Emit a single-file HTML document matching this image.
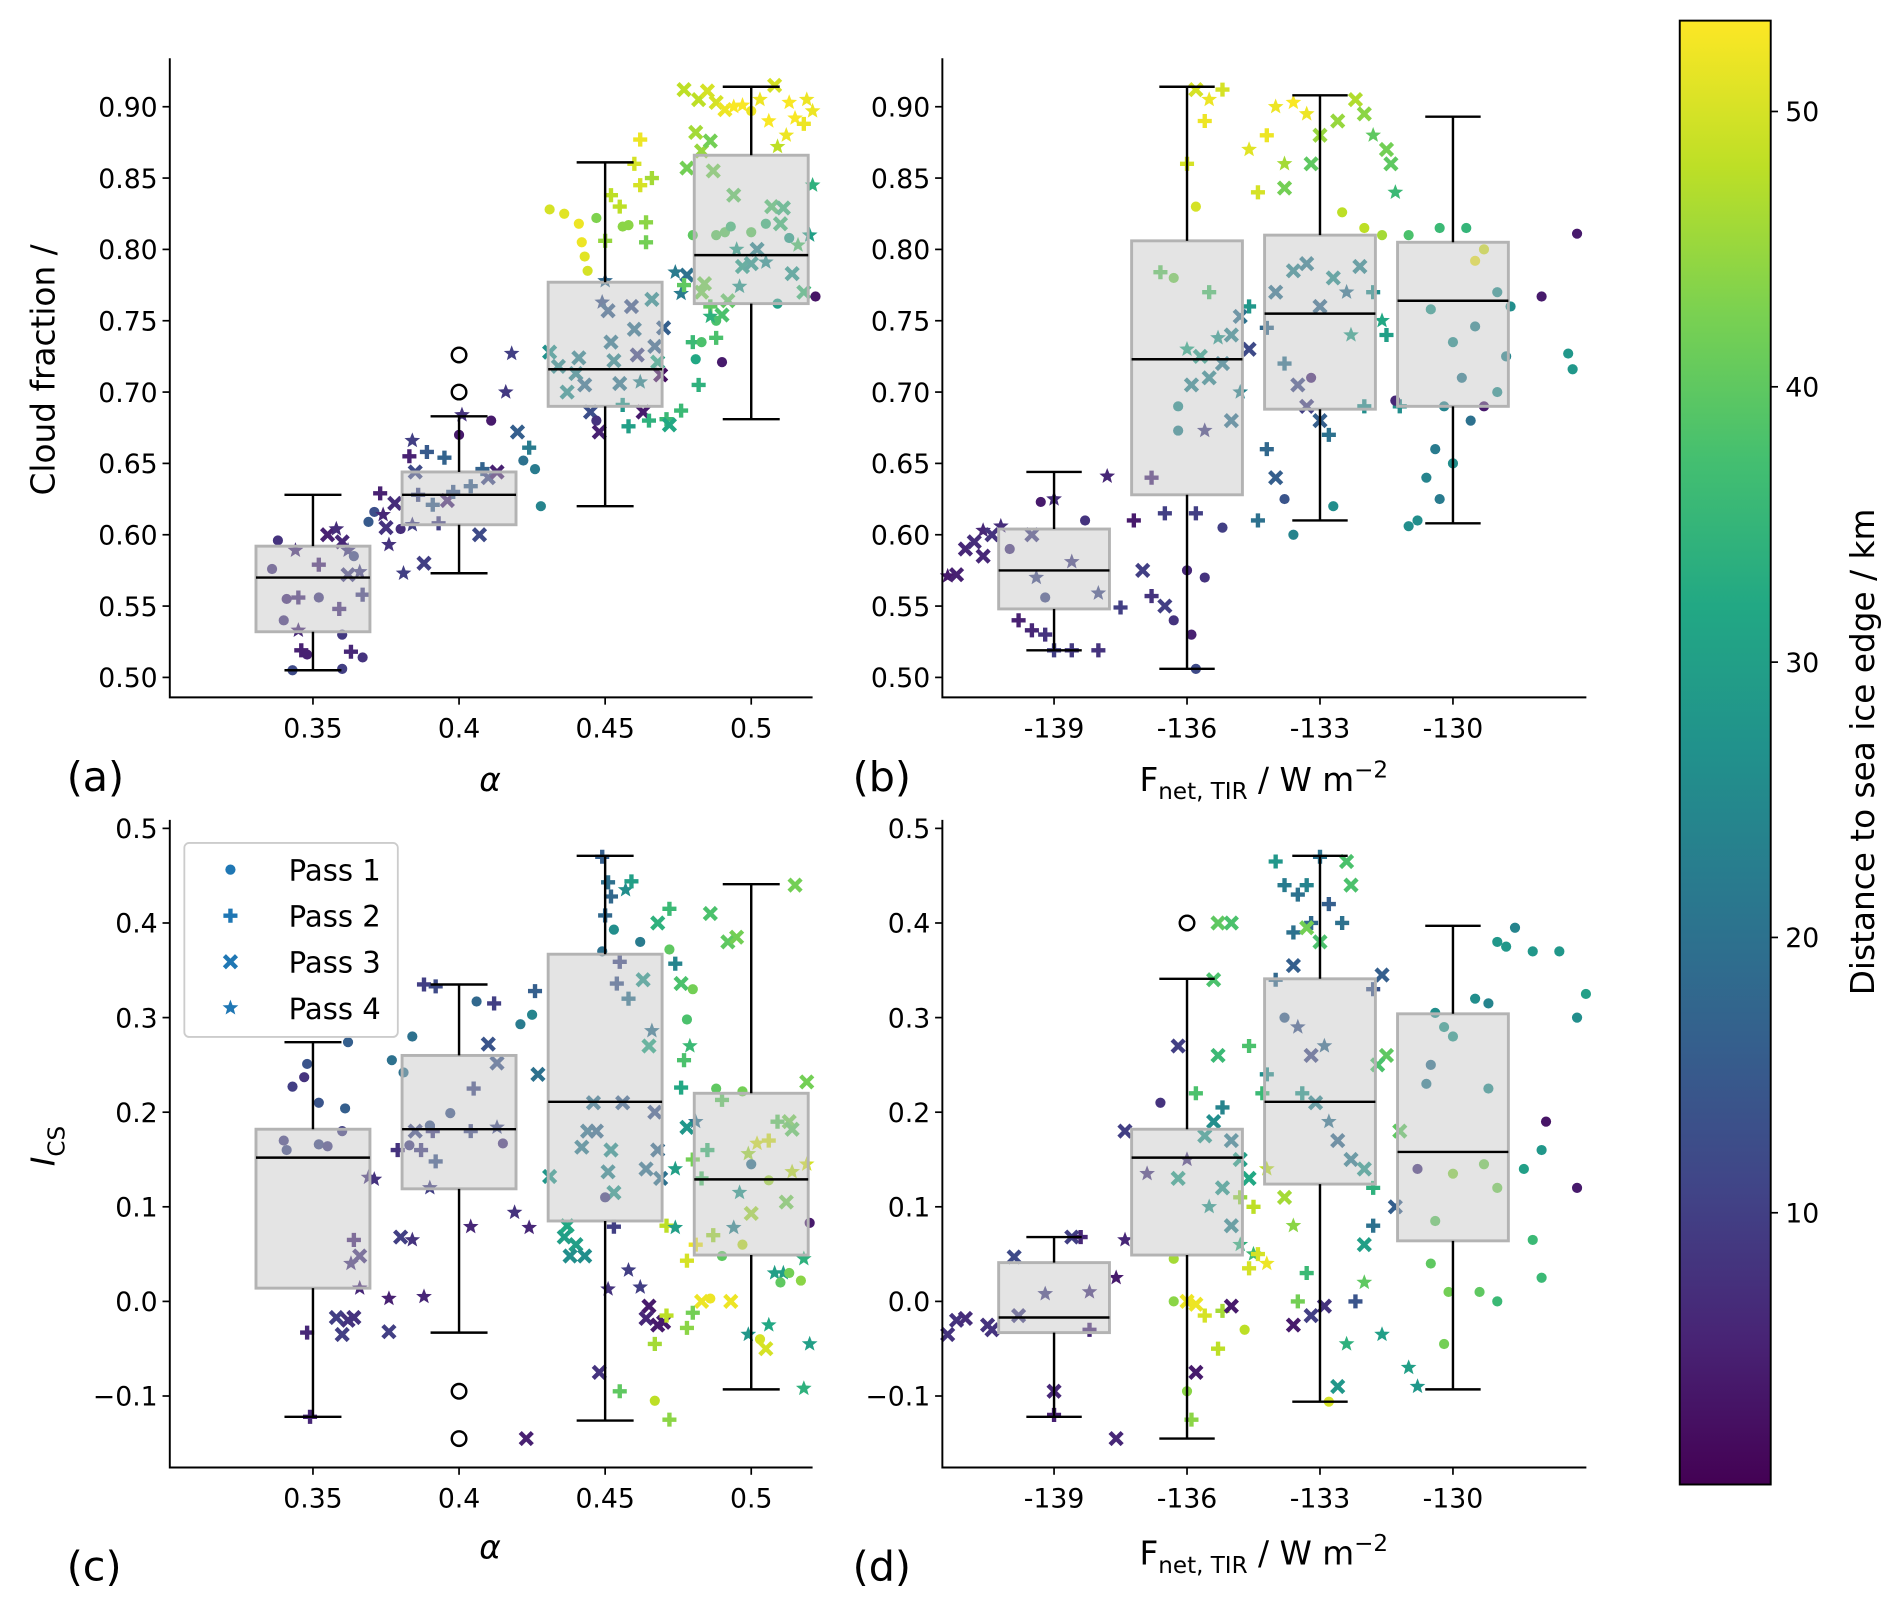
<!DOCTYPE html>
<html><head><meta charset="utf-8">
<style>
html,body{margin:0;padding:0;background:#fff;}
svg{display:block;font-family:"DejaVu Sans","Liberation Sans",sans-serif;}
</style></head>
<body>
<svg id="fig" xmlns="http://www.w3.org/2000/svg" width="1892" height="1599" viewBox="0 0 1560 1318.4">
<defs>
<linearGradient id="vir" x1="0" y1="1" x2="0" y2="0">
<stop offset="0" stop-color="#440154"/><stop offset="0.1" stop-color="#482475"/><stop offset="0.2" stop-color="#414487"/><stop offset="0.3" stop-color="#355f8d"/><stop offset="0.4" stop-color="#2a788e"/><stop offset="0.5" stop-color="#21918c"/><stop offset="0.6" stop-color="#22a884"/><stop offset="0.7" stop-color="#44bf70"/><stop offset="0.8" stop-color="#7ad151"/><stop offset="0.9" stop-color="#bddf26"/><stop offset="1" stop-color="#fde725"/>
</linearGradient>
</defs>
</svg>
<script>
// ---------- data ----------
const alphaTicks=[0.35,0.4,0.45,0.5];
const alphaTickLabels=["0.35","0.4","0.45","0.5"];
const fluxTicks=[-139,-136,-133,-130];
const fluxTickLabels=["-139","-136","-133","-130"];
const cfTicks=[0.5,0.55,0.6,0.65,0.7,0.75,0.8,0.85,0.9];
const cfTickLabels=["0.50","0.55","0.60","0.65","0.70","0.75","0.80","0.85","0.90"];
const icsTicks=[-0.1,0,0.1,0.2,0.3,0.4,0.5];
const icsTickLabels=["\u22120.1","0.0","0.1","0.2","0.3","0.4","0.5"];
const cbTicks=[10,20,30,40,50];
const cbTickLabels=["10","20","30","40","50"];
// boxes: [pos, whiskerLow, q1, median, q3, whiskerHigh]
const boxesA=[[0.35,0.505,0.532,0.570,0.592,0.628],[0.40,0.573,0.607,0.628,0.644,0.683],[0.45,0.620,0.690,0.716,0.777,0.861],[0.50,0.681,0.762,0.796,0.866,0.914]];
const fliersA=[[0.40,0.700],[0.40,0.726]];
const boxesB=[[-139,0.519,0.548,0.575,0.604,0.644],[-136,0.506,0.628,0.723,0.806,0.914],[-133,0.610,0.688,0.755,0.810,0.908],[-130,0.608,0.690,0.764,0.805,0.893]];
const fliersB=[];
const boxesC=[[0.35,-0.122,0.014,0.152,0.182,0.274],[0.40,-0.033,0.119,0.182,0.260,0.335],[0.45,-0.126,0.085,0.211,0.367,0.471],[0.50,-0.093,0.049,0.129,0.220,0.441]];
const fliersC=[[0.40,-0.095],[0.40,-0.145]];
const boxesD=[[-139,-0.122,-0.033,-0.017,0.041,0.068],[-136,-0.145,0.049,0.152,0.182,0.341],[-133,-0.106,0.124,0.211,0.341,0.471],[-130,-0.093,0.064,0.158,0.304,0.397]];
const fliersD=[[-136,0.400]];
// points: [x, y, distance km, pass]
const pointsA=[[0.338,0.596,8,1],[0.336,0.576,8,1],[0.341,0.555,7,1],[0.340,0.540,8,1],[0.345,0.533,6,4],[0.346,0.519,5,2],[0.348,0.516,5,1],[0.345,0.556,7,2],[0.352,0.556,9,1],[0.344,0.589,7,4],[0.352,0.579,6,2],[0.355,0.600,5,3],[0.358,0.604,7,4],[0.360,0.595,6,3],[0.362,0.589,9,4],[0.364,0.585,12,1],[0.362,0.572,10,3],[0.366,0.574,10,4],[0.367,0.558,10,2],[0.359,0.548,7,2],[0.360,0.530,9,1],[0.363,0.518,6,2],[0.367,0.514,8,1],[0.343,0.505,12,1],[0.360,0.506,10,1],[0.369,0.609,15,1],[0.371,0.616,13,1],[0.373,0.629,5,2],[0.374,0.614,6,4],[0.375,0.605,8,3],[0.376,0.593,8,4],[0.378,0.622,7,3],[0.380,0.604,7,1],[0.381,0.573,10,4],[0.383,0.655,5,2],[0.384,0.666,10,4],[0.385,0.644,12,3],[0.386,0.628,12,2],[0.384,0.607,10,4],[0.388,0.580,10,3],[0.389,0.658,15,2],[0.391,0.621,16,2],[0.393,0.608,10,2],[0.395,0.654,17,2],[0.396,0.624,6,3],[0.398,0.630,15,2],[0.400,0.670,4,1],[0.401,0.684,8,4],[0.404,0.634,16,2],[0.407,0.600,12,3],[0.408,0.646,17,2],[0.410,0.640,12,3],[0.413,0.644,5,3],[0.411,0.680,4,1],[0.416,0.700,9,4],[0.420,0.672,16,3],[0.422,0.652,20,1],[0.424,0.661,22,2],[0.426,0.646,22,1],[0.428,0.620,24,1],[0.418,0.727,10,4],
[0.431,0.828,50,1],[0.436,0.825,51,1],[0.441,0.818,52,1],[0.442,0.805,52,1],[0.443,0.795,51,1],[0.444,0.785,50,1],[0.447,0.822,43,1],[0.450,0.806,45,2],[0.452,0.838,48,2],[0.455,0.830,48,2],[0.456,0.816,44,1],[0.458,0.817,44,1],[0.460,0.860,50,2],[0.462,0.845,50,2],[0.464,0.819,44,2],[0.464,0.805,42,2],[0.462,0.877,52,2],[0.466,0.850,46,2],
[0.431,0.728,27,3],[0.434,0.718,25,3],[0.437,0.700,26,3],[0.440,0.713,24,3],[0.441,0.724,23,3],[0.443,0.705,19,3],[0.445,0.686,13,3],[0.447,0.680,8,1],[0.448,0.672,5,3],[0.449,0.763,14,4],[0.450,0.778,18,4],[0.451,0.757,16,3],[0.452,0.735,21,3],[0.453,0.722,24,3],[0.455,0.706,21,3],[0.456,0.691,28,2],[0.458,0.676,30,2],[0.459,0.760,14,3],[0.460,0.744,20,3],[0.461,0.726,11,3],[0.462,0.707,24,4],[0.463,0.686,4,3],[0.465,0.680,34,2],[0.466,0.765,25,3],[0.467,0.732,17,3],[0.468,0.721,32,3],[0.469,0.712,2,3],[0.470,0.745,16,3],[0.471,0.681,36,2],[0.472,0.677,32,3],[0.474,0.784,22,4],[0.476,0.687,36,2],[0.476,0.769,22,4],[0.478,0.782,20,3],[0.480,0.735,36,2],[0.481,0.723,32,1],[0.482,0.705,34,2],[0.477,0.775,40,2],[0.484,0.776,42,3],[0.486,0.760,40,2],[0.488,0.738,38,2],[0.488,0.750,38,1],
[0.477,0.912,48,3],[0.482,0.905,48,3],[0.485,0.911,50,3],[0.488,0.903,50,3],[0.491,0.898,52,3],[0.494,0.900,53,4],[0.497,0.901,53,4],[0.500,0.897,52,1],[0.503,0.905,52,4],[0.506,0.890,53,4],[0.508,0.915,50,3],[0.509,0.872,48,4],[0.512,0.880,52,4],[0.513,0.903,53,4],[0.515,0.892,53,4],[0.518,0.888,52,2],[0.519,0.905,52,4],[0.521,0.897,52,4],[0.478,0.857,42,3],[0.483,0.869,45,3],[0.481,0.882,46,3],[0.486,0.876,42,3],[0.487,0.855,42,3],[0.494,0.838,40,3],[0.480,0.810,40,1],[0.488,0.810,40,1],[0.491,0.812,40,1],[0.493,0.816,36,1],[0.495,0.800,30,4],[0.497,0.788,30,3],[0.496,0.774,28,4],[0.500,0.790,28,3],[0.502,0.800,24,3],[0.505,0.791,26,4],[0.505,0.818,35,1],[0.507,0.830,38,3],[0.510,0.818,36,3],[0.511,0.829,35,3],[0.513,0.808,30,1],[0.514,0.783,28,3],[0.516,0.803,38,4],[0.518,0.770,36,3],[0.520,0.810,30,4],[0.521,0.845,34,4],[0.522,0.767,3,1],[0.509,0.762,30,1],[0.490,0.721,4,1],[0.483,0.735,38,1],[0.486,0.753,34,4],[0.490,0.754,38,3],[0.492,0.764,40,3],[0.483,0.770,42,3],[0.500,0.812,40,1]];
const pointsB=[[-141.4,0.571,4,4],[-141.2,0.572,5,3],[-141.0,0.590,6,3],[-140.8,0.595,7,3],[-140.6,0.603,6,4],[-140.4,0.600,8,3],[-140.2,0.606,7,4],[-140.6,0.585,6,3],[-140.0,0.590,8,1],[-139.8,0.540,5,2],[-139.5,0.533,6,2],[-139.2,0.530,8,2],[-139.0,0.519,10,2],[-138.6,0.519,9,2],[-138.0,0.519,8,2],[-139.3,0.623,4,1],[-139.0,0.625,7,4],[-139.5,0.600,10,3],[-139.4,0.570,12,4],[-139.2,0.556,12,1],[-138.6,0.581,10,4],[-138.3,0.610,8,1],[-137.8,0.641,6,4],[-137.2,0.610,4,2],[-137.0,0.575,10,3],[-136.8,0.557,8,2],[-136.5,0.550,10,3],[-137.5,0.549,10,2],[-138.0,0.559,12,4],
[-136.3,0.540,8,1],[-136.8,0.640,6,2],[-136.5,0.615,10,2],[-135.8,0.615,10,2],[-135.6,0.570,8,1],[-135.9,0.530,5,1],[-135.8,0.506,12,1],[-136.0,0.575,6,1],[-135.2,0.605,10,1],[-136.2,0.673,24,1],[-135.6,0.673,10,4],[-136.2,0.690,26,1],[-135.9,0.705,24,3],[-135.5,0.710,24,3],[-135.2,0.720,22,3],[-135.0,0.740,24,3],[-134.8,0.753,20,3],[-134.6,0.760,28,2],[-135.3,0.738,28,4],[-135.7,0.725,30,3],[-136.0,0.730,32,4],[-134.8,0.700,24,4],[-135.0,0.680,20,3],[-136.3,0.780,42,1],[-136.6,0.784,40,2],[-135.5,0.770,38,2],[-135.8,0.830,50,1],[-136.0,0.860,50,2],[-135.6,0.890,52,2],[-135.5,0.905,52,4],[-135.8,0.912,50,3],[-135.2,0.912,50,2],[-134.6,0.870,51,4],[-134.4,0.840,50,2],[-134.0,0.900,52,4],[-133.6,0.903,53,4],[-133.3,0.895,52,4],[-134.2,0.880,52,2],[-133.8,0.860,46,4],[-133.0,0.880,45,3],[-132.6,0.890,45,3],[-132.2,0.905,47,3],[-132.0,0.895,44,3],[-131.8,0.880,40,4],[-131.5,0.870,42,3],[-131.4,0.860,40,3],[-131.3,0.840,36,4],[-133.2,0.860,40,3],[-133.8,0.843,42,3],[-132.5,0.826,48,1],[-132.0,0.815,48,1],[-131.6,0.810,46,1],
[-134.0,0.770,20,3],[-133.6,0.785,24,3],[-133.3,0.790,22,3],[-133.0,0.760,18,3],[-132.7,0.780,26,3],[-132.4,0.770,20,4],[-132.1,0.788,24,3],[-131.8,0.770,26,2],[-133.8,0.720,20,2],[-133.5,0.705,12,3],[-133.3,0.690,10,3],[-133.0,0.680,16,3],[-132.8,0.670,20,2],[-134.2,0.660,18,2],[-134.0,0.640,16,3],[-133.8,0.625,14,1],[-134.4,0.610,20,2],[-133.6,0.600,24,1],[-132.7,0.620,26,1],[-133.2,0.710,6,1],[-134.6,0.730,12,3],[-134.2,0.745,18,2],[-131.5,0.740,30,2],[-131.2,0.690,26,2],[-132.3,0.740,30,4],[-132.0,0.690,26,2],[-131.6,0.750,32,4],
[-131.0,0.810,38,1],[-130.3,0.815,36,1],[-129.7,0.815,35,1],[-129.3,0.800,50,1],[-129.5,0.792,52,1],[-130.5,0.758,28,1],[-129.0,0.770,26,1],[-128.7,0.760,26,1],[-129.5,0.746,24,1],[-130.0,0.735,26,1],[-128.8,0.725,24,1],[-129.8,0.710,22,1],[-130.2,0.690,24,1],[-129.0,0.700,26,1],[-129.6,0.680,20,1],[-130.4,0.660,22,1],[-130.0,0.650,26,1],[-130.6,0.640,24,1],[-129.3,0.690,4,1],[-130.8,0.610,26,1],[-131.0,0.606,26,1],[-131.3,0.694,6,1],[-128.0,0.767,4,1],[-127.4,0.727,28,1],[-127.3,0.716,28,1],[-127.2,0.811,4,1],[-130.3,0.625,22,1]];
const pointsC=[[0.340,0.170,10,1],[0.341,0.160,12,1],[0.343,0.227,10,1],[0.347,0.237,8,1],[0.352,0.166,12,1],[0.352,0.210,14,1],[0.355,0.164,10,1],[0.348,0.251,14,1],[0.360,0.180,10,1],[0.361,0.204,16,1],[0.362,0.274,16,1],[0.364,0.065,6,2],[0.366,0.048,8,3],[0.363,0.040,8,4],[0.366,0.014,6,4],[0.358,-0.017,10,3],[0.360,-0.035,10,3],[0.362,-0.020,8,3],[0.364,-0.017,8,3],[0.348,-0.033,6,2],[0.349,-0.122,6,2],[0.369,0.131,8,4],[0.371,0.129,8,4],[0.376,0.003,5,4],[0.380,0.068,10,3],[0.376,-0.032,10,3],[0.384,0.065,8,4],[0.388,0.005,6,4],[0.379,0.160,8,2],[0.383,0.165,10,1],[0.387,0.160,10,2],[0.385,0.180,12,3],[0.391,0.180,10,2],[0.392,0.148,14,2],[0.390,0.186,14,1],[0.397,0.199,14,1],[0.390,0.120,10,4],[0.381,0.242,20,1],[0.377,0.255,20,1],[0.384,0.280,20,1],[0.388,0.335,10,2],[0.392,0.333,12,2],[0.404,0.079,6,4],[0.405,0.225,12,2],[0.406,0.317,18,1],[0.412,0.315,10,2],[0.410,0.272,14,3],[0.413,0.252,14,3],[0.404,0.180,12,2],[0.413,0.184,12,4],[0.419,0.094,8,4],[0.424,0.078,6,4],[0.423,-0.145,5,3],[0.415,0.167,8,1],[0.421,0.293,22,1],[0.425,0.303,24,1],[0.426,0.328,16,2],[0.427,0.240,20,3],
[0.436,0.068,30,3],[0.437,0.080,32,3],[0.440,0.060,30,3],[0.438,0.048,26,3],[0.443,0.048,26,3],[0.431,0.132,28,3],[0.442,0.163,22,3],[0.444,0.180,20,3],[0.446,0.210,20,3],[0.447,0.180,18,3],[0.449,0.370,20,1],[0.449,0.470,16,2],[0.451,0.443,20,2],[0.450,0.408,18,2],[0.452,0.428,18,2],[0.454,0.336,14,2],[0.455,0.359,12,2],[0.453,0.393,26,1],[0.456,0.210,16,3],[0.458,0.320,20,2],[0.457,0.435,26,4],[0.459,0.444,30,2],[0.462,0.380,22,1],[0.463,0.340,28,3],[0.466,0.286,20,4],[0.465,0.270,32,3],[0.467,0.200,14,3],[0.468,0.160,18,3],[0.464,0.140,20,3],[0.469,0.130,20,3],[0.451,0.137,24,3],[0.452,0.160,26,3],[0.453,0.115,28,3],[0.450,0.110,10,1],[0.451,0.013,8,4],[0.448,-0.075,8,3],[0.453,0.079,10,2],[0.458,0.033,10,4],[0.462,0.015,10,4],[0.465,-0.005,4,3],[0.464,-0.018,6,3],[0.468,-0.025,4,3],[0.470,-0.022,4,3],[0.471,-0.015,48,2],[0.467,-0.045,46,2],[0.455,-0.095,40,2],[0.467,-0.105,48,1],[0.472,-0.125,44,2],[0.472,0.415,36,2],[0.468,0.400,34,3],[0.472,0.372,40,1],[0.474,0.357,24,2],[0.476,0.336,38,3],[0.480,0.330,42,1],[0.478,0.298,38,1],[0.479,0.270,36,4],[0.477,0.255,38,2],[0.476,0.226,32,2],[0.478,0.184,28,3],[0.480,0.150,42,2],[0.474,0.140,30,4],[0.471,0.080,48,2],[0.474,0.078,30,4],[0.478,0.043,50,2],[0.481,0.060,52,2],[0.483,0.000,52,3],[0.480,-0.012,42,2],[0.478,-0.028,44,2],
[0.486,0.410,38,3],[0.488,0.225,40,1],[0.490,0.213,40,2],[0.492,0.380,40,3],[0.495,0.385,42,3],[0.497,0.222,42,1],[0.499,0.156,46,4],[0.502,0.167,50,4],[0.500,0.145,20,1],[0.500,0.093,46,3],[0.497,0.060,48,1],[0.493,0.000,52,3],[0.490,0.048,40,1],[0.487,0.070,46,2],[0.485,0.160,36,2],[0.483,0.130,38,2],[0.481,0.190,20,4],[0.486,0.003,52,1],[0.494,0.078,24,4],[0.496,0.115,28,4],[0.499,-0.035,28,4],[0.505,-0.050,50,3],[0.503,-0.040,50,1],[0.508,0.030,30,4],[0.511,0.030,30,4],[0.512,0.105,42,3],[0.513,0.190,42,3],[0.514,0.182,40,3],[0.514,0.137,48,4],[0.506,-0.025,32,4],[0.509,0.190,40,2],[0.515,0.440,42,3],[0.519,0.232,42,3],[0.520,0.083,4,1],[0.520,-0.045,30,4],[0.518,-0.092,34,4],[0.506,0.128,46,1],[0.506,0.170,50,2],[0.510,0.020,40,1],[0.513,0.030,42,1],[0.517,0.022,44,1],[0.518,0.045,34,4],[0.519,0.145,50,4]];
const pointsD=[[-141.4,-0.035,8,3],[-141.2,-0.020,8,3],[-141.0,-0.018,7,3],[-140.5,-0.025,8,3],[-140.4,-0.030,8,3],[-139.8,-0.015,10,3],[-139.9,0.047,12,3],[-139.0,-0.120,5,2],[-139.0,-0.095,6,3],[-139.2,0.008,10,4],[-138.6,0.068,10,3],[-138.4,0.068,6,2],[-138.2,-0.030,6,2],[-138.2,0.010,8,4],[-137.6,-0.145,6,3],[-137.4,0.065,6,4],[-137.6,0.025,4,4],[-137.4,0.180,10,3],[-136.9,0.135,8,4],[-136.6,0.210,8,1],[-136.2,0.270,10,3],[-136.2,0.130,30,3],[-136.0,0.150,8,4],[-135.8,0.220,38,2],[-135.6,0.175,28,3],[-135.4,0.190,26,3],[-135.2,0.205,24,2],[-135.0,0.170,22,3],[-134.8,0.150,30,3],[-134.6,0.130,32,3],[-135.2,0.120,28,3],[-135.5,0.100,28,4],[-135.0,0.080,24,3],[-134.8,0.060,34,4],[-134.5,0.050,36,4],[-135.3,0.400,40,3],[-135.0,0.400,38,3],[-135.4,0.340,38,3],[-135.3,0.260,36,3],[-134.6,0.270,38,2],[-134.3,0.220,36,2],[-136.3,0.000,44,1],[-136.3,0.045,46,1],[-136.0,0.000,52,3],[-135.8,-0.003,52,3],[-135.6,-0.015,50,2],[-135.3,-0.050,48,2],[-135.2,-0.010,46,2],[-135.8,-0.075,4,3],[-136.0,-0.095,44,1],[-135.9,-0.125,44,2],[-135.0,-0.005,4,3],[-134.7,-0.030,48,1],[-134.4,0.050,50,2],[-134.8,0.110,45,2],[-134.6,0.035,50,2],
[-134.0,0.465,28,2],[-133.8,0.440,22,2],[-133.5,0.430,20,2],[-133.3,0.440,24,2],[-133.0,0.470,20,2],[-133.2,0.400,18,2],[-133.6,0.390,20,2],[-132.8,0.420,16,2],[-132.4,0.465,38,3],[-132.3,0.440,38,3],[-133.0,0.380,38,3],[-133.3,0.395,42,3],[-132.5,0.400,20,2],[-134.0,0.340,18,2],[-133.6,0.355,16,3],[-133.5,0.290,14,4],[-133.2,0.260,12,3],[-132.9,0.270,18,4],[-133.8,0.300,16,1],[-134.2,0.240,26,2],[-133.4,0.220,28,2],[-133.1,0.210,24,3],[-132.8,0.190,20,4],[-132.6,0.170,18,3],[-132.3,0.150,22,3],[-132.0,0.140,28,3],[-131.8,0.120,34,2],[-134.2,0.140,48,4],[-133.8,0.110,46,3],[-134.2,0.040,52,4],[-134.5,0.100,48,2],[-133.6,0.080,44,4],[-133.3,0.030,36,2],[-133.5,0.000,42,2],[-133.2,-0.015,10,3],[-133.6,-0.025,4,3],[-132.9,-0.005,8,3],[-132.2,0.000,14,2],[-132.0,0.020,40,4],[-131.6,-0.035,30,4],[-132.4,-0.045,34,4],[-132.6,-0.090,28,3],[-132.0,0.060,30,3],[-131.8,0.080,20,2],[-131.3,0.100,16,3],[-131.5,0.260,40,3],[-131.7,0.250,38,3],[-131.2,0.180,40,3],[-132.8,-0.106,50,1],[-131.0,-0.070,30,4],[-130.8,-0.090,28,4],[-131.8,0.330,14,2],[-131.6,0.345,16,3],
[-130.4,0.305,26,1],[-130.2,0.290,28,1],[-130.0,0.280,28,1],[-130.5,0.250,20,1],[-129.5,0.320,26,1],[-129.0,0.380,28,1],[-128.8,0.375,28,1],[-128.6,0.395,24,1],[-128.2,0.370,28,1],[-127.6,0.370,28,1],[-130.6,0.230,22,1],[-129.2,0.225,26,1],[-130.8,0.140,8,1],[-130.0,0.135,44,1],[-129.3,0.145,42,1],[-129.0,0.120,42,1],[-128.4,0.140,30,1],[-128.2,0.065,36,1],[-130.5,0.040,40,1],[-130.1,0.010,42,1],[-130.2,-0.045,42,1],[-129.4,0.010,40,1],[-129.0,0.000,36,1],[-128.0,0.025,36,1],[-130.4,0.085,40,1],[-127.9,0.190,3,1],[-127.2,0.120,4,1],[-128.0,0.160,28,1],[-127.0,0.325,30,1],[-127.2,0.300,26,1],[-129.2,0.315,24,1]];

// ---------- helpers ----------
const NS="http://www.w3.org/2000/svg";
const svg=document.getElementById('fig');
function el(tag,attrs,parent){const e=document.createElementNS(NS,tag);for(const k in attrs)e.setAttribute(k,attrs[k]);(parent||svg).appendChild(e);return e;}
const VIR=["#440154","#482475","#414487","#355f8d","#2a788e","#21918c","#22a884","#44bf70","#7ad151","#bddf26","#fde725"];
function hx(c){return [parseInt(c.substr(1,2),16),parseInt(c.substr(3,2),16),parseInt(c.substr(5,2),16)];}
const DMIN=0.13,DMAX=53.3;
function viridis(d){let t=(d-DMIN)/(DMAX-DMIN);t=Math.max(0,Math.min(1,t));const f=t*10,i=Math.min(9,Math.floor(f)),r=f-i;const a=hx(VIR[i]),b=hx(VIR[i+1]);return `rgb(${a.map((v,k)=>Math.round(v+(b[k]-v)*r)).join(',')})`;}
function lin(d0,d1,r0,r1){return v=>r0+(v-d0)/(d1-d0)*(r1-r0);}

function marker(g,x,y,c,p){
  let m;
  if(p===1){m=el('circle',{cx:x,cy:y,r:4.2,fill:c},g);}
  else if(p===2){m=el('path',{d:`M${x-5.8},${y}H${x+5.8}M${x},${y-5.8}V${y+5.8}`,stroke:c,'stroke-width':3.6,fill:'none'},g);}
  else if(p===3){m=el('path',{d:`M${x-5},${y-5}L${x+5},${y+5}M${x-5},${y+5}L${x+5},${y-5}`,stroke:c,'stroke-width':3.6,fill:'none'},g);}
  else{let pts=[];for(let k=0;k<10;k++){const r=k%2?2.9:6.8,a=-Math.PI/2+k*Math.PI/5;pts.push((x+r*Math.cos(a)).toFixed(1)+','+(y+r*Math.sin(a)).toFixed(1));}
    m=el('polygon',{points:pts.join(' '),fill:c},g);}
  return m;
}

function panel(cfg){
  const {name,x0,x1,yTop,yBot,xd,yd,xTicks,xLabels,yTicks,yLabels,points,boxes,fliers,bw}=cfg;
  const g=el('g',{});
  
  
  const X=lin(xd[0],xd[1],x0,x1), Y=lin(yd[0],yd[1],yBot,yTop);
  const pg=el('g',{},g);
  
  
  points.forEach(p=>{const m=marker(pg,X(p[0]),Y(p[1]),viridis(p[2]),p[3]);
    
    });
  boxes.forEach((b,i)=>{
    const cx=X(b[0]), hw=Math.abs(X(b[0]+bw/2)-cx);
    const bg=el('g',{},g);
    
    
    el('rect',{x:cx-hw,y:Y(b[4]),width:2*hw,height:Y(b[2])-Y(b[4]),fill:'#c4c4c4','fill-opacity':0.45,stroke:'#b3b3b3','stroke-width':2.4},bg);
    el('line',{x1:cx,x2:cx,y1:Y(b[4]),y2:Y(b[5]),stroke:'#000','stroke-width':2},bg);
    el('line',{x1:cx,x2:cx,y1:Y(b[2]),y2:Y(b[1]),stroke:'#000','stroke-width':2},bg);
    el('line',{x1:cx-hw/2,x2:cx+hw/2,y1:Y(b[5]),y2:Y(b[5]),stroke:'#000','stroke-width':2},bg);
    el('line',{x1:cx-hw/2,x2:cx+hw/2,y1:Y(b[1]),y2:Y(b[1]),stroke:'#000','stroke-width':2},bg);
    el('line',{x1:cx-hw,x2:cx+hw,y1:Y(b[3]),y2:Y(b[3]),stroke:'#000','stroke-width':2},bg);
  });
  fliers.forEach(f=>{const c=el('circle',{cx:X(f[0]),cy:Y(f[1]),r:6,fill:'none',stroke:'#000','stroke-width':2},g);
    
    });
  const ax=el('path',{d:`M${x0},${yTop}V${yBot}H${x1}`,fill:'none',stroke:'#000','stroke-width':1.6},g);
  
  
  xTicks.forEach((t,i)=>{const px=X(t);
    el('line',{x1:px,x2:px,y1:yBot,y2:yBot+6,stroke:'#000','stroke-width':1.4},g);
    const tx=el('text',{x:px,y:yBot+33,'font-size':22,'text-anchor':'middle',fill:'#000'},g);tx.textContent=xLabels[i];
    
    });
  yTicks.forEach((t,i)=>{const py=Y(t);
    el('line',{x1:x0-6,x2:x0,y1:py,y2:py,stroke:'#000','stroke-width':1.4},g);
    const tx=el('text',{x:x0-10,y:py+8,'font-size':22,'text-anchor':'end',fill:'#000'},g);tx.textContent=yLabels[i];
    
    });
}

const axA=[0.301,0.521], axB=[-141.52,-126.99], cfD=[0.486,0.934], icD=[-0.1756,0.509];
panel({name:'panel-a',x0:140,x1:670,yTop:48,yBot:575,xd:axA,yd:cfD,xTicks:alphaTicks,xLabels:alphaTickLabels,yTicks:cfTicks,yLabels:cfTickLabels,points:pointsA,boxes:boxesA,fliers:fliersA,bw:0.039});
panel({name:'panel-b',x0:777,x1:1308,yTop:48,yBot:575,xd:axB,yd:cfD,xTicks:fluxTicks,xLabels:fluxTickLabels,yTicks:cfTicks,yLabels:cfTickLabels,points:pointsB,boxes:boxesB,fliers:fliersB,bw:2.5});
panel({name:'panel-c',x0:140,x1:670,yTop:676,yBot:1210,xd:axA,yd:icD,xTicks:alphaTicks,xLabels:alphaTickLabels,yTicks:icsTicks,yLabels:icsTickLabels,points:pointsC,boxes:boxesC,fliers:fliersC,bw:0.039});
panel({name:'panel-d',x0:777,x1:1308,yTop:676,yBot:1210,xd:axB,yd:icD,xTicks:fluxTicks,xLabels:fluxTickLabels,yTicks:icsTicks,yLabels:icsTickLabels,points:pointsD,boxes:boxesD,fliers:fliersD,bw:2.5});

// legend
const lg=el('g',{});


el('rect',{x:152,y:695,width:176,height:160,rx:4,fill:'#fff','fill-opacity':0.85,stroke:'#ccc','stroke-width':1.5},lg);
[1,2,3,4].forEach((p,i)=>{const y=717+i*38;
  const m=marker(lg,190,y,'#1f77b4',p);
  
  
  const t=el('text',{x:238,y:y+9,'font-size':24,fill:'#000'},lg);t.textContent='Pass '+p;
  
  });

// colorbar
const cbg=el('g',{});


el('rect',{x:1385,y:17,width:75,height:1207,fill:'url(#vir)',stroke:'#000','stroke-width':1.6},cbg);
const CY=lin(DMIN,DMAX,1224,17);
cbTicks.forEach((t,i)=>{const py=CY(t);
  el('line',{x1:1460,x2:1466,y1:py,y2:py,stroke:'#000','stroke-width':1.4},cbg);
  const tx=el('text',{x:1472,y:py+8,'font-size':22,fill:'#000'},cbg);tx.textContent=cbTickLabels[i];
  
  });
</script>
<svg style="position:absolute;left:0;top:0" width="1892" height="1599" viewBox="0 0 1560 1318.4">
<g font-family="DejaVu Sans, Liberation Sans, sans-serif" fill="#000">
<text transform="translate(45,305) rotate(-90)" font-size="27" text-anchor="middle">Cloud fraction /</text>
<text x="55" y="652" font-size="34">(a)</text>
<text x="404" y="652" font-size="27" font-style="italic" text-anchor="middle">α</text>
<text x="703" y="652" font-size="34">(b)</text>
<text x="1042" y="652" font-size="27" text-anchor="middle">F<tspan font-size="19" dy="7">net, TIR</tspan><tspan dy="-7"> / W m</tspan><tspan font-size="19" dy="-11">−2</tspan></text>
<text transform="translate(45,945) rotate(-90)" font-size="27" text-anchor="middle"><tspan font-style="italic">I</tspan><tspan font-size="19" dy="8">CS</tspan></text>
<text x="55" y="1303" font-size="34">(c)</text>
<text x="404" y="1285" font-size="27" font-style="italic" text-anchor="middle">α</text>
<text x="703" y="1303" font-size="34">(d)</text>
<text x="1042" y="1290" font-size="27" text-anchor="middle">F<tspan font-size="19" dy="7">net, TIR</tspan><tspan dy="-7"> / W m</tspan><tspan font-size="19" dy="-11">−2</tspan></text>
<text transform="translate(1545,620) rotate(-90)" font-size="27" text-anchor="middle">Distance to sea ice edge / km</text>
</g>
</svg>
</body></html>
